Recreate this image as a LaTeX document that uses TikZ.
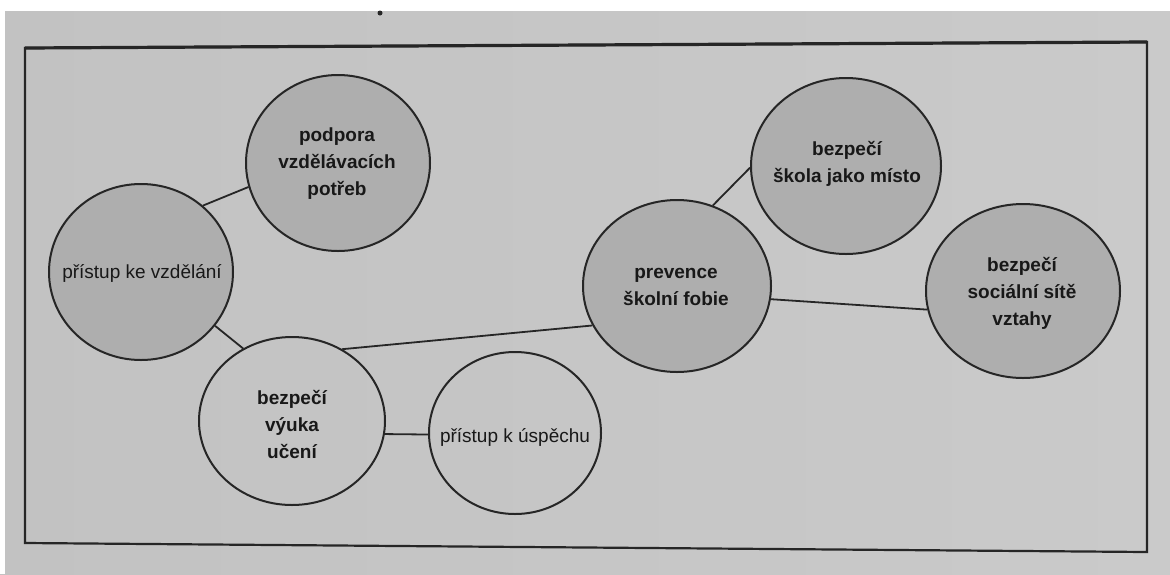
\documentclass[tikz,border=0pt]{standalone}
\usepackage{fontspec}
\setmainfont{Liberation Sans}
\usetikzlibrary{shapes.geometric}
\definecolor{ink}{HTML}{262626}
\definecolor{textc}{HTML}{181818}
\definecolor{bubblefill}{HTML}{AEAEAE}
\definecolor{bgleft}{HTML}{C2C2C2}
\definecolor{bgmid}{HTML}{D6D6D6}
\definecolor{bgright}{HTML}{CACACA}
\begin{document}
\begin{tikzpicture}[x=1pt,y=-1pt,
  bubble/.style={ellipse, draw=ink, line width=2pt, inner sep=0pt},
  filledbubble/.style={bubble, fill=bubblefill},
  lbl/.style={align=center, text=textc, inner sep=0pt, font=\fontsize{19}{27}\selectfont\bfseries},
  lblr/.style={align=center, text=textc, inner sep=0pt, font=\fontsize{19}{27}\selectfont},
  link/.style={draw=ink, line width=1.8pt},
  framebox/.style={draw=ink, line width=2.2pt, line join=miter}]
\useasboundingbox (0,0) rectangle (1170,574);
% photo background
\shade[left color=bgleft, middle color=bgmid, right color=bgright] (0,0) rectangle (1170,574);
\fill[white] (0,0) rectangle (1170,11);
\fill[white] (0,0) rectangle (5,574);
\fill[ink] (380,13) circle (2.5);
% frame
\coordinate (ftl) at (25,48);
\coordinate (ftr) at (1147,42);
\coordinate (fbr) at (1147,552);
\coordinate (fbl) at (25,543);
\draw[framebox] (ftl) -- (ftr) -- (fbr) -- (fbl) -- cycle;
\draw[ink, line width=3.2pt] (ftl) -- (ftr);
% bubbles
\node[filledbubble, minimum width=184, minimum height=176] (pod) at (338,163) {};
\node[filledbubble, minimum width=184, minimum height=176] (pk) at (141,272) {};
\node[bubble, minimum width=186, minimum height=168] (vy) at (292,421) {};
\node[bubble, minimum width=172, minimum height=162] (us) at (515,433) {};
\node[filledbubble, minimum width=188, minimum height=172] (pr) at (677,286) {};
\node[filledbubble, minimum width=190, minimum height=176] (sk) at (846,166) {};
\node[filledbubble, minimum width=194, minimum height=174] (so) at (1023,291) {};
% labels
\node[lbl] (podt) at (337,164) {podpora\\vzdělávacích\\potřeb};
\node[lblr] (pkt) at (142,273) {přístup ke vzdělání};
\node[lbl] (vyt) at (292,424) {bezpečí\\výuka\\učení};
\node[lblr] (ust) at (515,437) {přístup k úspěchu};
\node[lbl] (prt) at (676,287) {prevence\\školní fobie};
\node[lbl] (skt) at (847,164) {bezpečí\\škola jako místo};
\node[lbl] (sot) at (1022,293) {bezpečí\\sociální sítě\\vztahy};
% connectors
\draw[link] (pk.47) -- (pod.195);
\draw[link] (pk.-36) -- (vy.124);
\draw[link] (vy.55) -- (pr.205);
\draw[link] (vy.-8) -- (us.181);
\draw[link] (pr.66) -- (sk.181);
\draw[link] (pr.-8) -- (so.191);
\end{tikzpicture}
\end{document}
